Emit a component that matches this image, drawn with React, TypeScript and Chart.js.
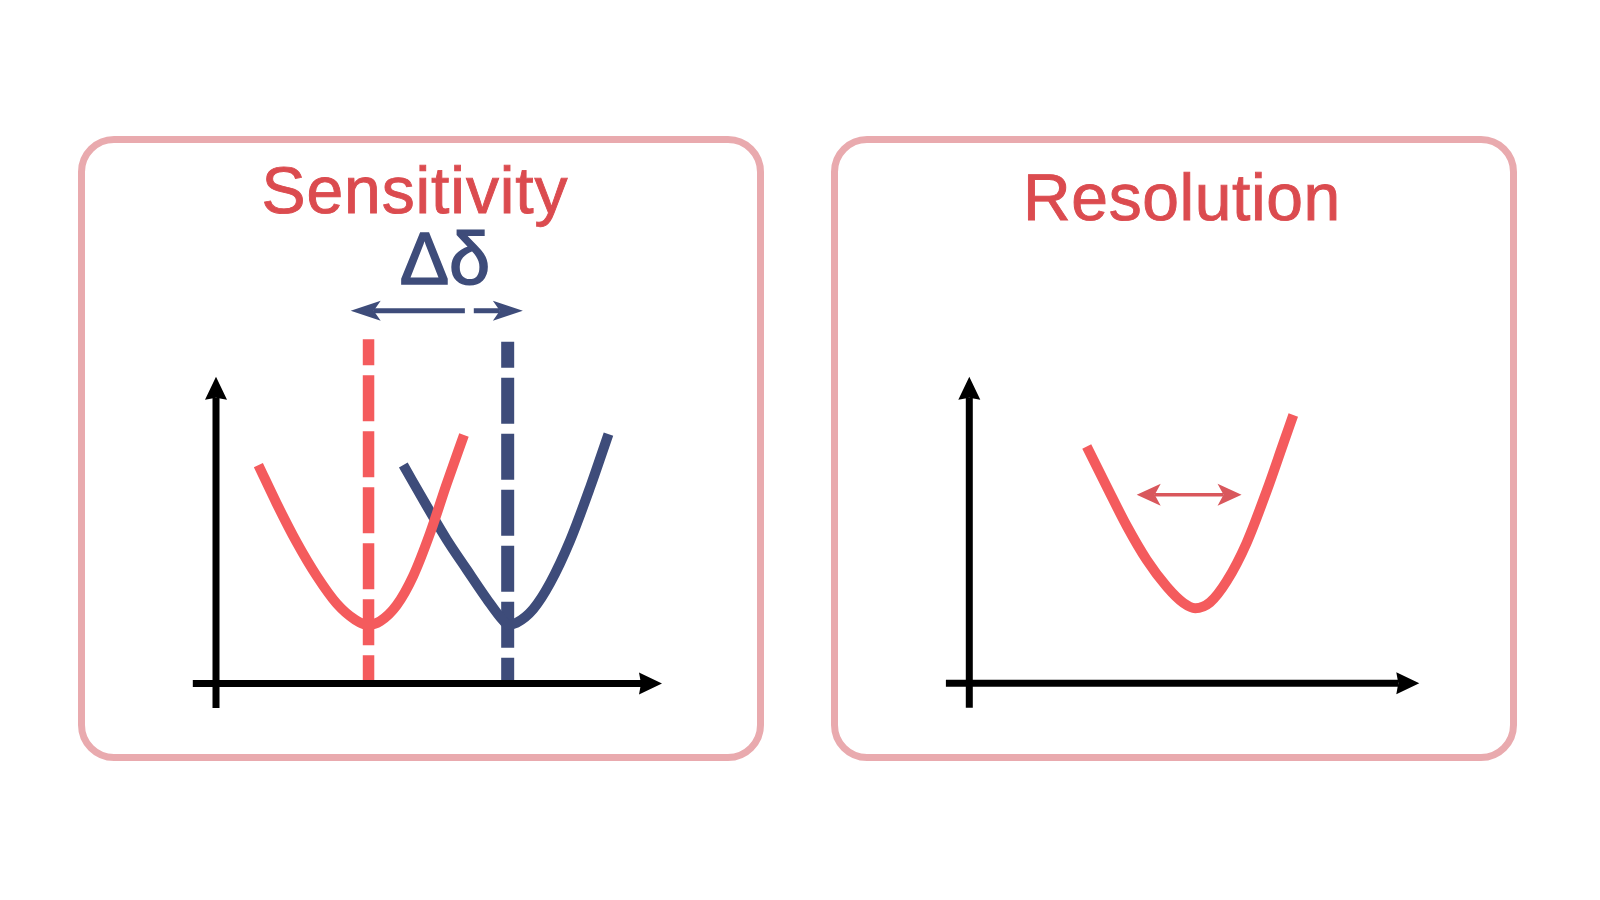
import React, { useEffect, useRef } from "react";
import { Chart, registerables } from "chart.js";

Chart.register(...registerables);

// ---- left panel (sensitivity): two resonances shifted by Δδ ----
const redX = [0.95, 1.36, 1.81, 2.26, 2.71, 3.12, 3.41, 3.68, 4.05, 4.42, 4.8, 5.17, 5.56];
const redY = [7.12, 5.87, 4.6, 3.5, 2.6, 2.08, 1.91, 2.03, 2.55, 3.5, 4.9, 6.5, 8.1];
const navyX = [4.2, 4.72, 5.17, 5.62, 6.07, 6.44, 6.55, 6.74, 7.11, 7.49, 7.94, 8.39, 8.8];
const navyY = [7.12, 5.8, 4.7, 3.72, 2.76, 2.05, 1.92, 1.98, 2.42, 3.27, 4.66, 6.4, 8.13];
const peakPositions = [3.42, 6.54];
const peakLineTops = [11.22, 11.14];
const deltaArrowY = 12.15;
const deltaArrowLeft = [5.58, 3.02]; // gap end -> tip
const deltaArrowRight = [5.78, 6.88];

// ---- right panel (resolution): one broad line ----
const resX = [2.61, 3.05, 3.5, 3.94, 4.39, 4.76, 5.02, 5.35, 5.72, 6.16, 6.61, 6.98, 7.2];
const resY = [7.72, 6.43, 5.13, 4.03, 3.15, 2.62, 2.45, 2.64, 3.33, 4.57, 6.28, 7.83, 8.75];
const widthArrowX = [3.72, 6.05];
const widthArrowY = 6.15;

// axes (origin at 0,0, arrow tips at 10)
const axisXRange = [-0.52, 10];
const axisYRange = [-0.8, 10];

const RED = "#f45b5d";
const NAVY = "#3e4c7a";
const TITLE_RED = "#db4b4f";
const BORDER_PINK = "#e9aaae";

type Arrow = {
  from: [number, number];
  to: [number, number];
  color: string;
  width: number;
  len: number;
  half: number;
  notch: number;
  double?: boolean;
};

const toPts = (xs: number[], ys: number[]) => xs.map((x, i) => ({ x, y: ys[i] }));

// draws arrows (axes + annotations) in data units through the chart scales
const arrowPlugin = {
  id: "arrows",
  afterDatasetsDraw(chart: any) {
    const items: Arrow[] = chart.options.plugins.arrows?.items || [];
    const { ctx, scales } = chart;
    const sx = scales.x;
    const sy = scales.y;
    const head = (tx: number, ty: number, ux: number, uy: number, a: Arrow) => {
      const nx = -uy;
      const ny = ux;
      ctx.beginPath();
      ctx.moveTo(tx, ty);
      ctx.lineTo(tx - ux * a.len + nx * a.half, ty - uy * a.len + ny * a.half);
      ctx.lineTo(tx - ux * (a.len - a.notch), ty - uy * (a.len - a.notch));
      ctx.lineTo(tx - ux * a.len - nx * a.half, ty - uy * a.len - ny * a.half);
      ctx.closePath();
      ctx.fill();
    };
    ctx.save();
    items.forEach((a) => {
      const x0 = sx.getPixelForValue(a.from[0]);
      const y0 = sy.getPixelForValue(a.from[1]);
      const x1 = sx.getPixelForValue(a.to[0]);
      const y1 = sy.getPixelForValue(a.to[1]);
      const d = Math.hypot(x1 - x0, y1 - y0) || 1;
      const ux = (x1 - x0) / d;
      const uy = (y1 - y0) / d;
      const back = a.len - a.notch;
      const sx0 = a.double ? x0 + ux * back : x0;
      const sy0 = a.double ? y0 + uy * back : y0;
      ctx.strokeStyle = a.color;
      ctx.fillStyle = a.color;
      ctx.lineWidth = a.width;
      ctx.lineCap = "butt";
      ctx.beginPath();
      ctx.moveTo(sx0, sy0);
      ctx.lineTo(x1 - ux * back, y1 - uy * back);
      ctx.stroke();
      head(x1, y1, ux, uy, a);
      if (a.double) head(x0, y0, -ux, -uy, a);
    });
    ctx.restore();
  },
};

const axisArrows = (): Arrow[] => [
  { from: [axisXRange[0], 0], to: [axisXRange[1], 0], color: "#000", width: 7, len: 23, half: 11, notch: 2 },
  { from: [0, axisYRange[0]], to: [0, axisYRange[1]], color: "#000", width: 7, len: 23, half: 11, notch: 2 },
];

type PanelProps = {
  left: number;
  top: number;
  padding: { left: number; right: number; top: number; bottom: number };
  datasets: any[];
  arrows: Arrow[];
};

const BOX_W = 686;
const BOX_H = 625;

function Panel({ left, top, padding, datasets, arrows }: PanelProps) {
  const canvasRef = useRef<HTMLCanvasElement | null>(null);

  useEffect(() => {
    if (!canvasRef.current) return;
    const chart = new Chart(canvasRef.current, {
      type: "scatter",
      data: { datasets },
      options: {
        responsive: false,
        animation: false,
        events: [],
        layout: { padding },
        scales: {
          x: { type: "linear", min: -0.6, max: 10.4, display: false },
          y: { type: "linear", min: -1, max: 12.5, display: false },
        },
        plugins: {
          legend: { display: false },
          tooltip: { enabled: false },
          arrows: { items: arrows },
        } as any,
      },
      plugins: [arrowPlugin],
    });
    return () => chart.destroy();
  }, []);

  return (
    <canvas
      ref={canvasRef}
      width={BOX_W}
      height={BOX_H}
      style={{ position: "absolute", left, top, width: BOX_W, height: BOX_H }}
    />
  );
}

const curve = (xs: number[], ys: number[], color: string) => ({
  data: toPts(xs, ys),
  showLine: true,
  borderColor: color,
  borderWidth: 10,
  pointRadius: 0,
  cubicInterpolationMode: "monotone",
  clip: false,
});

const peakLine = (x: number, top: number, color: string, width: number) => ({
  data: [
    { x, y: top },
    { x, y: 0 },
  ],
  showLine: true,
  borderColor: color,
  borderWidth: width,
  borderDash: [46, 10],
  borderDashOffset: 20,
  pointRadius: 0,
  clip: false,
});

const textStyle = (color: string, size: number): React.CSSProperties => ({
  position: "absolute",
  width: 500,
  textAlign: "center",
  fontFamily: "'Liberation Sans', Arial, sans-serif",
  fontSize: size,
  lineHeight: `${size}px`,
  color,
  whiteSpace: "nowrap",
  textRendering: "geometricPrecision",
  WebkitFontSmoothing: "antialiased",
  WebkitTextStroke: `0.9px ${color}`,
});

const boxStyle = (left: number): React.CSSProperties => ({
  position: "absolute",
  left,
  top: 136,
  width: BOX_W,
  height: BOX_H,
  boxSizing: "border-box",
  border: `7px solid ${BORDER_PINK}`,
  borderRadius: 36,
});

export default function App() {
  useEffect(() => {
    document.body.style.margin = "0";
  }, []);

  const leftDatasets = [
    curve(redX, redY, RED),
    curve(navyX, navyY, NAVY),
    peakLine(peakPositions[0], peakLineTops[0], RED, 11.5),
    peakLine(peakPositions[1], peakLineTops[1], NAVY, 13),
  ];
  const leftArrows: Arrow[] = [
    ...axisArrows(),
    { from: [deltaArrowLeft[0], deltaArrowY], to: [deltaArrowLeft[1], deltaArrowY], color: NAVY, width: 5, len: 30, half: 10, notch: 7 },
    { from: [deltaArrowRight[0], deltaArrowY], to: [deltaArrowRight[1], deltaArrowY], color: NAVY, width: 5, len: 30, half: 10, notch: 7 },
  ];

  const rightDatasets = [curve(resX, resY, RED)];
  const rightArrows: Arrow[] = [
    ...axisArrows(),
    { from: [widthArrowX[0], widthArrowY], to: [widthArrowX[1], widthArrowY], color: "#d9575c", width: 3.5, len: 24, half: 11, notch: 6, double: true },
  ];

  return (
    <div style={{ position: "absolute", left: 0, top: 0, width: 1600, height: 900, background: "#fff", overflow: "hidden" }}>
      <div style={boxStyle(78)} />
      <div style={boxStyle(831)} />
      <div style={{ ...textStyle(TITLE_RED, 66), left: 415 - 250, top: 157, letterSpacing: "0.9px" }}>Sensitivity</div>
      <div style={{ ...textStyle(TITLE_RED, 66), left: 1182 - 250, top: 164, letterSpacing: "0.6px" }}>Resolution</div>
      <div style={{ ...textStyle(NAVY, 74), left: 445 - 250, top: 222, WebkitTextStroke: `1.6px ${NAVY}` }}>Δδ</div>
      <Panel
        left={78}
        top={136}
        padding={{ left: 111.24, right: 84.16, top: 164, bottom: 46.82 }}
        datasets={leftDatasets}
        arrows={leftArrows}
      />
      <Panel
        left={831}
        top={136}
        padding={{ left: 111.3, right: 79.7, top: 164.05, bottom: 47.04 }}
        datasets={rightDatasets}
        arrows={rightArrows}
      />
    </div>
  );
}
